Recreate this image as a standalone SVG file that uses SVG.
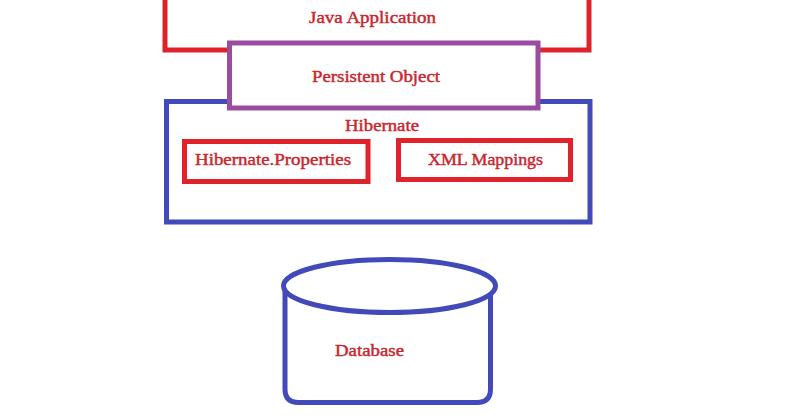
<svg xmlns="http://www.w3.org/2000/svg" width="793" height="417" viewBox="0 0 793 417">
<style>
.box{fill:#ffffff;stroke-width:5}
.red{stroke:#e0232b}
.purple{stroke:#9a4d9e}
.blue{stroke:#4249b9;fill:#ffffff}
.lbl{font-family:"Liberation Serif","DejaVu Serif",serif;font-size:17px;fill:#c8262e;stroke:#c8262e;stroke-width:0.45;text-anchor:middle}
</style>
<rect width="793" height="417" fill="#ffffff"/>
<g id="java-application">
<rect class="box red" x="165" y="-10" width="424" height="60"/>
<text class="lbl" x="372.5" y="22.5" textLength="127" lengthAdjust="spacingAndGlyphs">Java Application</text>
</g>
<g id="hibernate">
<rect class="box blue" x="166.5" y="101.5" width="423.5" height="120.5"/>
<text class="lbl" x="382" y="131" textLength="74" lengthAdjust="spacingAndGlyphs">Hibernate</text>
</g>
<g id="persistent-object">
<rect class="box purple" x="229.5" y="43" width="308.5" height="65"/>
<text class="lbl" x="376" y="82" textLength="128" lengthAdjust="spacingAndGlyphs">Persistent Object</text>
</g>
<g id="hibernate-properties">
<rect class="box red" x="184.5" y="141.5" width="183.5" height="40"/>
<text class="lbl" x="273" y="165" textLength="156" lengthAdjust="spacingAndGlyphs">Hibernate.Properties</text>
</g>
<g id="xml-mappings">
<rect class="box red" x="398.5" y="140.5" width="172" height="39"/>
<text class="lbl" x="485.5" y="164.5" textLength="115" lengthAdjust="spacingAndGlyphs">XML Mappings</text>
</g>
<g id="database">
<path class="blue" stroke-width="5" d="M285 288 L285 389 Q285 402.5 298.5 402.5 L477 402.5 Q490.5 402.5 490.5 389 L490.5 288"/>
<ellipse class="blue" stroke-width="5" cx="389.5" cy="286" rx="106" ry="26.5"/>
<text class="lbl" x="369.5" y="356" textLength="69" lengthAdjust="spacingAndGlyphs">Database</text>
</g>
<g id="connectors"/>
</svg>
